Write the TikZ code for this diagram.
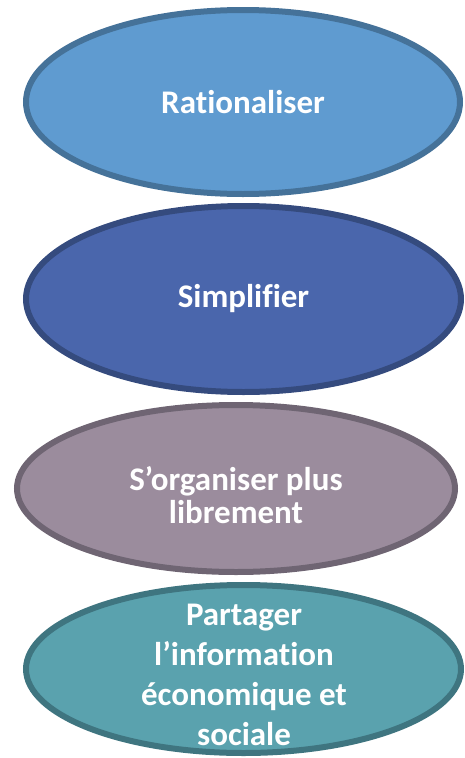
\documentclass[tikz,border=0pt]{standalone}
\usepackage{fontspec}
\setmainfont{Carlito}[Ligatures=NoCommon]
\usetikzlibrary{shapes.geometric}
\definecolor{f1}{HTML}{5F9BD0}
\definecolor{b1}{HTML}{457299}
\definecolor{f2}{HTML}{4A66AC}
\definecolor{b2}{HTML}{354B7E}
\definecolor{f3}{HTML}{9B8C9D}
\definecolor{b3}{HTML}{6F6573}
\definecolor{f4}{HTML}{5AA2AE}
\definecolor{b4}{HTML}{3F7580}
\tikzset{
  oval/.style={ellipse, line width=6pt, inner sep=0pt, text=white, align=center,
    font=\fontsize{33}{39}\selectfont\bfseries},
  label text/.style={text=white, align=center, inner sep=0pt},
}
\begin{document}
\begin{tikzpicture}[x=1pt,y=-1pt]
\useasboundingbox (0,0) rectangle (464,758);
\node[oval, fill=f1, draw=b1, minimum width=434pt, minimum height=184pt] (e1) at (243,102) {Rationaliser};
\node[oval, fill=f2, draw=b2, minimum width=435pt, minimum height=186pt] (e2) at (243.5,299) {Simplifier};
\node[oval, fill=f3, draw=b3, minimum width=438pt, minimum height=167pt] (e3) at (236,488.5) {};
\node[label text, font=\fontsize{33}{33}\selectfont\bfseries] (t3) at (236,495) {S’organiser plus\\librement};
\node[oval, fill=f4, draw=b4, minimum width=435pt, minimum height=168pt] (e4) at (243.5,669) {};
\node[label text, font=\fontsize{33}{40}\selectfont\bfseries] (t4) at (244,675) {Partager\\l’information\\économique et\\sociale};
\end{tikzpicture}
\end{document}
